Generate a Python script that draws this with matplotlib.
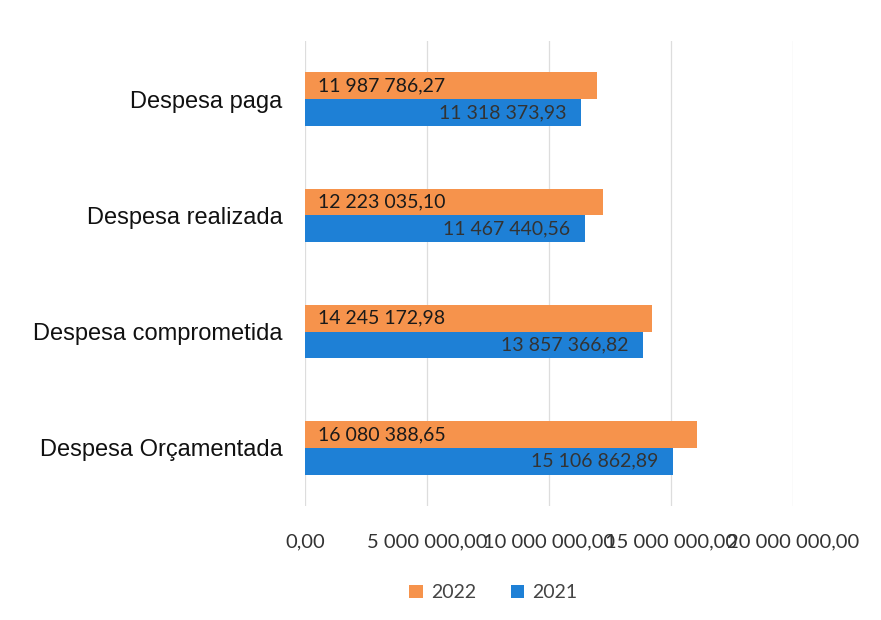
import numpy as np
import matplotlib.pyplot as plt

# --- data ---
categories = ["Despesa paga", "Despesa realizada", "Despesa comprometida", "Despesa Orçamentada"]
vals_2022 = [11987786.27, 12223035.10, 14245172.98, 16080388.65]
vals_2021 = [11318373.93, 11467440.56, 13857366.82, 15106862.89]
xticks = [0, 5000000, 10000000, 15000000, 20000000]


def fmt(v):
    s = f"{v:,.2f}"
    return s.replace(",", " ").replace(".", ",")


orange = "#F6934C"
blue = "#1E80D6"

fig = plt.figure(figsize=(8.81, 6.2), dpi=100)
ax = fig.add_axes([0.346, 0.184, 0.554, 0.750])

y = np.arange(len(categories))
h = 0.23
b22 = ax.barh(y - h / 2, vals_2022, height=h, color=orange, label="2022")
b21 = ax.barh(y + h / 2, vals_2021, height=h, color=blue, label="2021")

# orange labels at the bar base, blue labels at the bar end
for i, v in enumerate(vals_2022):
    ax.text(550000, y[i] - h / 2, fmt(v), ha="left", va="center",
            fontsize=14, color="#1a1a1a", family="Lato")
for i, v in enumerate(vals_2021):
    ax.text(v - 600000, y[i] + h / 2, fmt(v), ha="right", va="center",
            fontsize=14, color="#333333", family="Lato")

ax.set_ylim(len(categories) - 0.5, -0.5)
ax.set_xlim(0, 20000000)
ax.set_xticks(xticks)
ax.set_xticklabels([fmt(v) for v in xticks], fontsize=14.5, color="#333333", family="Lato")
ax.set_yticks(y)
ax.set_yticklabels(categories, fontsize=17, color="#111111", family="Liberation Sans")
ax.tick_params(axis="both", length=0)
ax.tick_params(axis="x", pad=20)
ax.tick_params(axis="y", pad=16)
ax.grid(axis="x", color="#dddddd", linewidth=0.9)
ax.set_axisbelow(True)
for s in ax.spines.values():
    s.set_visible(False)

fig.legend([b22, b21], ["2022", "2021"], loc="center", bbox_to_anchor=(0.56, 0.044),
           ncol=2, frameon=False, handlelength=0.7, handleheight=0.7,
           columnspacing=1.8, handletextpad=0.4,
           prop={"family": "Lato", "size": 14}, labelcolor="#444444")

fig.savefig("out.png", dpi=100)
